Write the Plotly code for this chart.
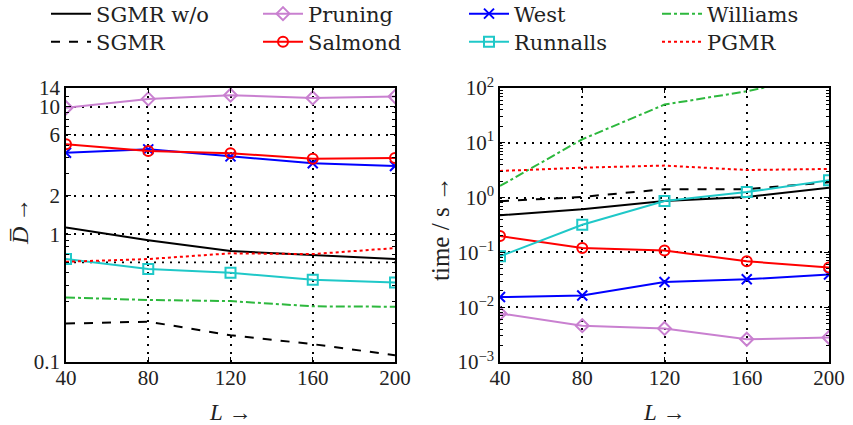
import math
import plotly.graph_objects as go

L = [40, 80, 120, 160, 200]

# Left panel: mean D
d_sgmr_wo = [1.13, 0.90, 0.74, 0.69, 0.64]
d_sgmr = [0.200, 0.207, 0.162, 0.138, 0.113]
d_pruning = [9.8, 11.5, 12.3, 11.7, 12.0]
d_salmond = [5.07, 4.5, 4.31, 3.91, 3.96]
d_west = [4.35, 4.63, 4.08, 3.6, 3.43]
d_runnalls = [0.64, 0.535, 0.50, 0.44, 0.42]
d_williams = [0.32, 0.306, 0.30, 0.273, 0.271]
d_pgmr = [0.61, 0.64, 0.71, 0.70, 0.78]

# Right panel: time / s
t_sgmr_wo = [0.475, 0.61, 0.867, 1.03, 1.52]
t_sgmr = [0.857, 1.03, 1.42, 1.42, 1.90]
t_pruning = [0.0077, 0.0046, 0.0041, 0.0026, 0.0028]
t_salmond = [0.199, 0.12, 0.108, 0.069, 0.053]
t_west = [0.0153, 0.0163, 0.0288, 0.0323, 0.0394]
t_runnalls = [0.085, 0.32, 0.867, 1.26, 2.07]
t_williams = [1.63, 11.6, 49.8, 87, 180]
t_pgmr = [3.06, 3.52, 3.84, 3.19, 3.33]

left_ticks = [0.1, 1, 2, 6, 10, 14]
left_ticktext = ["0.1", "1", "2", "6", "10", "14"]
left_extra_grid = [4]
right_ticks = [1e-3, 1e-2, 1e-1, 1, 10, 100]
right_ticktext = ["10<sup>−3</sup>", "10<sup>−2</sup>", "10<sup>−1</sup>",
                  "10<sup>0</sup>", "10<sup>1</sup>", "10<sup>2</sup>"]

FONT = "Liberation Serif"
LEGFONT = "DejaVu Serif"
TXT = "#222222"

styles = {
    "SGMR w/o": dict(color="black", dash="solid", marker=None),
    "Pruning": dict(color="#C980D0", dash="solid", marker="diamond-open"),
    "West": dict(color="#0000FF", dash="solid", marker="x-thin-open"),
    "Williams": dict(color="#2DB83D", dash="dashdot", marker=None),
    "SGMR": dict(color="black", dash="dash", marker=None),
    "Salmond": dict(color="#FF0000", dash="solid", marker="circle-open"),
    "Runnalls": dict(color="#1FC8C8", dash="solid", marker="square-open"),
    "PGMR": dict(color="#FF0000", dash="dot", marker=None),
}
order = ["SGMR w/o", "Pruning", "West", "Williams", "SGMR", "Salmond", "Runnalls", "PGMR"]
left_data = {"SGMR w/o": d_sgmr_wo, "Pruning": d_pruning, "West": d_west,
             "Williams": d_williams, "SGMR": d_sgmr, "Salmond": d_salmond,
             "Runnalls": d_runnalls, "PGMR": d_pgmr}
right_data = {"SGMR w/o": t_sgmr_wo, "Pruning": t_pruning, "West": t_west,
              "Williams": t_williams, "SGMR": t_sgmr, "Salmond": t_salmond,
              "Runnalls": t_runnalls, "PGMR": t_pgmr}

W, H = 853, 425
def fx(p): return p / W
def fy(p): return 1 - p / H

# legend layout: 4 columns x 2 rows (pixel anchors)
col_x = [46, 258, 464, 657]
row_y = [14, 42]

fig = go.Figure()
legends = {}
for i, name in enumerate(order):
    s = styles[name]
    mode = "lines+markers" if s["marker"] else "lines"
    mk = dict(symbol=s["marker"], size=10, color=s["color"],
              line=dict(width=2, color=s["color"])) if s["marker"] else None
    leg = "legend" if i == 0 else f"legend{i + 1}"
    legends[leg] = dict(orientation="h", xanchor="left", yanchor="middle",
                        x=fx(col_x[i % 4]), y=fy(row_y[i // 4]),
                        bgcolor="rgba(0,0,0,0)", itemwidth=40,
                        font=dict(family=LEGFONT, size=21, color=TXT))
    for data, xa, ya, show in [(left_data, "x", "y", True), (right_data, "x2", "y2", False)]:
        fig.add_trace(go.Scatter(
            x=L, y=data[name], name=name, mode=mode, xaxis=xa, yaxis=ya,
            line=dict(color=s["color"], dash=s["dash"], width=2), legend=leg,
            marker=mk, showlegend=show, cliponaxis=True))

GRIDDASH = "2px,6px"
axis_common = dict(showline=True, linecolor="black", linewidth=1.5, mirror="ticks",
                   ticks="inside", ticklen=5, tickcolor="black", automargin=False,
                   showgrid=True, gridcolor="black", griddash=GRIDDASH, gridwidth=1.8,
                   zeroline=False, tickfont=dict(family=FONT, size=21, color=TXT))

fig.update_layout(
    width=W, height=H, margin=dict(l=0, r=0, t=0, b=0, autoexpand=False),
    paper_bgcolor="white", plot_bgcolor="white",
    font=dict(family=FONT, color=TXT),
    showlegend=True,
    **legends,
    xaxis=dict(domain=[fx(66), fx(395)], range=[40, 200], tickvals=L, anchor="y",
               ticklabelstandoff=-4, **axis_common),
    yaxis=dict(domain=[fy(362), fy(88)], type="log", range=[-1, math.log10(14)],
               tickvals=left_ticks, ticktext=left_ticktext, anchor="x",
               minor=dict(ticks="inside", ticklen=3, tickcolor="black", showgrid=False,
                          tickvals=[0.2, 0.3, 0.4, 0.5, 0.6, 0.7, 0.8, 0.9, 3, 4, 5, 7, 8, 9, 12]),
               **axis_common),
    xaxis2=dict(domain=[fx(500), fx(829)], range=[40, 200], tickvals=L, anchor="y2",
                ticklabelstandoff=-4, **axis_common),
    yaxis2=dict(domain=[fy(362), fy(88)], type="log", range=[-3, 2],
                tickvals=right_ticks, ticktext=right_ticktext, anchor="x2",
                minor=dict(ticks="inside", ticklen=3, tickcolor="black", showgrid=False,
                           dtick="D1"),
                **axis_common),
    annotations=[
        dict(text="<i>L</i> →", x=fx(230), y=fy(412), xref="paper", yref="paper",
             xanchor="center", yanchor="middle",
             showarrow=False, font=dict(family=FONT, size=23, color=TXT)),
        dict(text="<i>L</i> →", x=fx(664), y=fy(412), xref="paper", yref="paper",
             xanchor="center", yanchor="middle",
             showarrow=False, font=dict(family=FONT, size=23, color=TXT)),
        dict(text="<i>D\u0305</i>\u2009→", x=fx(20), y=fy(222), xref="paper", yref="paper",
             xanchor="center", yanchor="middle",
             showarrow=False, textangle=-90, font=dict(family=FONT, size=24, color=TXT)),
        dict(text="time / s →", x=fx(440), y=fy(228), xref="paper", yref="paper",
             xanchor="center", yanchor="middle",
             showarrow=False, textangle=-90, font=dict(family=FONT, size=25, color=TXT)),
    ],
)

# extra dotted gridline (no label) on the left panel
for g in left_extra_grid:
    fig.add_shape(type="line", xref="x domain", yref="y", x0=0, x1=1,
                  y0=math.log10(g), y1=math.log10(g), layer="below",
                  line=dict(color="black", width=1.8, dash=GRIDDASH))

fig.write_html("out.html")
